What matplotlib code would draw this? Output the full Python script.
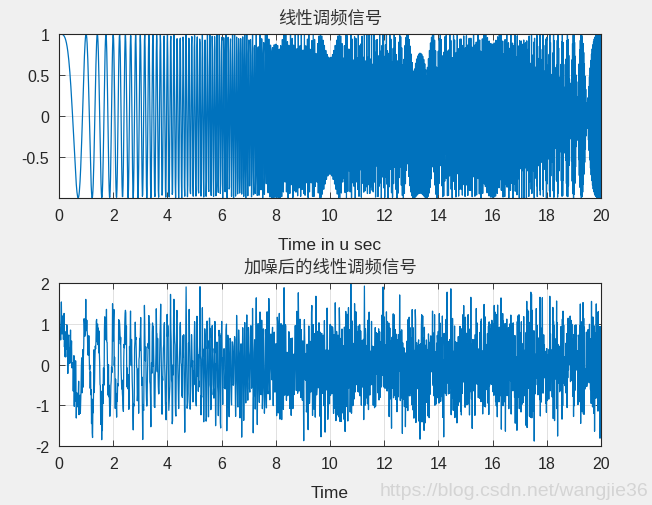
import numpy as np
import matplotlib

matplotlib.use("Agg")
import matplotlib.pyplot as plt

# chirp parameters (zero crossings / aliasing pattern)
pulse_width_us = 20.0          # T, microseconds
bandwidth_mhz = 40.0           # B, MHz  (first trough at ~0.7 us)
sample_rate_mhz = 80.0         # Fs = 2B (alias patterns at 10, 13.3, 16, 20 us)
noise_sigma = 0.4              # spread of the noisy trace
noise_seed = 7

top_title = "线性调频信号"
top_xlabel = "Time in u sec"
bottom_title = "加噪后的线性调频信号"
bottom_xlabel = "Time"
x_ticks = [0, 2, 4, 6, 8, 10, 12, 14, 16, 18, 20]
top_yticks = [-0.5, 0, 0.5, 1]
bottom_yticks = [-2, -1, 0, 1, 2]
watermark = "https://blog.csdn.net/wangjie36"

n_samples = int(pulse_width_us * sample_rate_mhz)
t_us = np.linspace(0, pulse_width_us, n_samples)
k_rate = bandwidth_mhz / pulse_width_us          # MHz per us
signal = np.cos(np.pi * k_rate * t_us ** 2)
noisy = signal + noise_sigma * np.random.default_rng(noise_seed).standard_normal(n_samples)

LINE = "#0072BD"
TEXT = "#262626"
BG = "#F0F0F0"

plt.rcParams["font.family"] = ["Liberation Sans", "Noto Sans CJK SC"]
plt.rcParams["axes.unicode_minus"] = False

fig = plt.figure(figsize=(6.52, 5.06), dpi=100, facecolor=BG)
ax1 = fig.add_axes([59 / 652, 1 - 199 / 506, 542 / 652, 164 / 506])
ax2 = fig.add_axes([59 / 652, 1 - 447 / 506, 542 / 652, 163 / 506])


def style(ax, yticks, title, xlabel):
    ax.set_xticks(x_ticks)
    ax.set_yticks(yticks)
    ax.set_xlim(0, pulse_width_us)
    ax.grid(True, color="#dcdcdc", linewidth=0.6)
    ax.set_axisbelow(True)
    ax.tick_params(direction="in", top=True, right=True, labelsize=11.5,
                   colors=TEXT, length=4, width=0.6, pad=7)
    for s in ax.spines.values():
        s.set_color(TEXT)
        s.set_linewidth(0.8)
    ax.set_title(title, family=["Noto Sans CJK SC"], fontsize=12.5, color="#333333", pad=8)
    ax.set_xlabel(xlabel, fontsize=12.5, color=TEXT, labelpad=10)


ax1.plot(t_us, signal, color=LINE, linewidth=0.9)
ax1.set_ylim(signal.min(), signal.max())
style(ax1, top_yticks, top_title, top_xlabel)
ax1.set_yticklabels(["-0.5", "0", "0.5", "1"])

ax2.plot(t_us, noisy, color=LINE, linewidth=0.9)
ax2.set_ylim(-2, 2)
style(ax2, bottom_yticks, bottom_title, bottom_xlabel)

fig.text(380 / 652, 1 - 492 / 506, watermark, fontsize=14, color="#d4d4d4",
         va="center", ha="left")

fig.savefig("out.png", dpi=100, facecolor=BG)
